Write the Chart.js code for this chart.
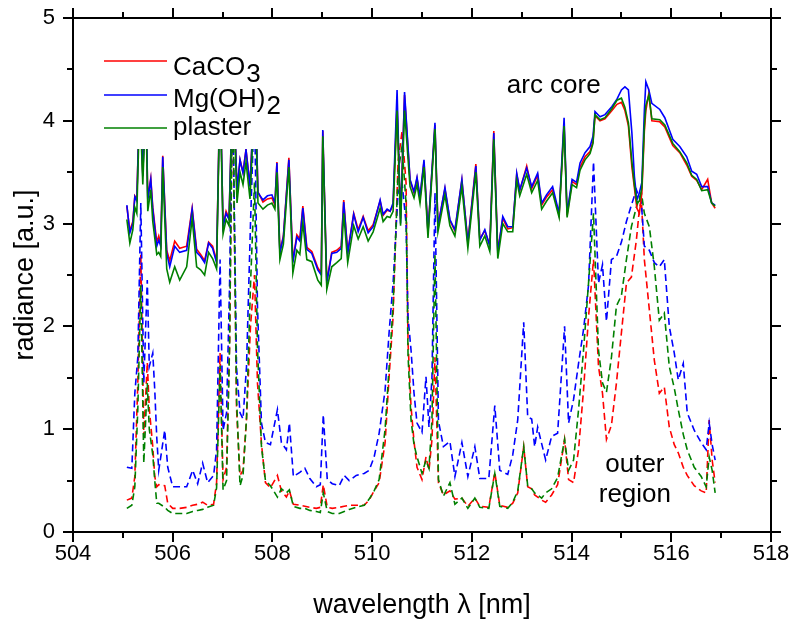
<!DOCTYPE html>
<html>
<head>
<meta charset="utf-8">
<title>radiance spectra</title>
<script src="https://cdn.jsdelivr.net/npm/chart.js@4.4.1/dist/chart.umd.min.js"></script>
<style>
  html, body { margin: 0; padding: 0; background: #fff; }
  #chart { display: block; }
</style>
</head>
<body>
<canvas id="chart" width="790" height="619"></canvas>
<script>
// arc core spectra (solid lines)
const coreWavelength = [
  505.08, 505.14, 505.20, 505.24, 505.28, 505.34, 505.40, 505.46, 505.50, 505.56,
  505.60, 505.68, 505.72, 505.76, 505.80, 505.88, 505.94, 506.04, 506.14, 506.28,
  506.39, 506.48, 506.56, 506.64, 506.72, 506.80, 506.88, 506.95, 507.01, 507.07,
  507.13, 507.21, 507.29, 507.35, 507.41, 507.47, 507.55, 507.65, 507.71, 507.81,
  507.90, 507.99, 508.05, 508.09, 508.15, 508.22, 508.33, 508.41, 508.49, 508.55,
  508.61, 508.69, 508.79, 508.91, 508.98, 509.01, 509.09, 509.19, 509.29, 509.38,
  509.43, 509.51, 509.63, 509.72, 509.82, 509.92, 510.02, 510.16, 510.22, 510.30,
  510.36, 510.42, 510.50, 510.57, 510.65, 510.76, 510.84, 510.90, 510.96, 511.04,
  511.12, 511.26, 511.32, 511.46, 511.56, 511.66, 511.80, 511.92, 512.08, 512.16,
  512.26, 512.36, 512.44, 512.52, 512.62, 512.72, 512.82, 512.90, 512.96, 513.10,
  513.20, 513.32, 513.40, 513.50, 513.62, 513.75, 513.85, 513.91, 514.01, 514.10,
  514.17, 514.27, 514.37, 514.43, 514.47, 514.57, 514.67, 514.81, 514.91, 515.00,
  515.07, 515.14, 515.21, 515.26, 515.31, 515.36, 515.41, 515.46, 515.49, 515.55,
  515.61, 515.77, 515.87, 516.03, 516.17, 516.31, 516.41, 516.51, 516.61, 516.73, 516.81, 516.88
];
const coreCaCO3 = [
  3.17, 2.93, 3.02, 3.27, 3.24, 4.30, 3.48, 4.30, 3.25, 3.44,
  3.16, 2.82, 2.88, 2.80, 3.66, 2.74, 2.64, 2.83, 2.76, 2.78,
  3.15, 2.75, 2.70, 2.64, 2.82, 2.78, 2.64, 4.40, 2.98, 3.12,
  3.05, 4.50, 3.33, 3.62, 3.50, 3.72, 3.37, 4.40, 3.31, 3.21,
  3.24, 3.25, 3.18, 3.60, 2.73, 2.88, 3.64, 2.64, 2.89, 2.85,
  3.17, 2.77, 2.73, 2.57, 2.52, 3.90, 2.44, 2.72, 2.74, 2.78,
  3.23, 2.72, 3.10, 2.94, 3.07, 2.93, 2.99, 3.22, 3.08, 3.13,
  3.12, 3.18, 4.15, 3.05, 4.25, 3.42, 3.30, 3.44, 3.25, 3.60,
  2.92, 3.96, 2.98, 3.34, 3.03, 2.93, 3.42, 2.82, 3.58, 2.85,
  2.93, 2.79, 3.90, 2.73, 3.05, 2.95, 2.96, 3.48, 3.32, 3.56,
  3.34, 3.47, 3.18, 3.26, 3.33, 3.08, 3.98, 3.08, 3.41, 3.38,
  3.55, 3.65, 3.70, 3.80, 4.05, 4.00, 4.02, 4.10, 4.16, 4.18,
  4.10, 3.95, 3.55, 3.35, 3.15, 3.10, 3.30, 3.90, 4.10, 4.27,
  4.00, 3.99, 3.94, 3.76, 3.69, 3.57, 3.46, 3.42, 3.33, 3.43, 3.20, 3.15
];
const coreMgOH2 = [
  3.18, 2.91, 3.00, 3.26, 3.22, 4.30, 3.46, 4.30, 3.23, 3.43,
  3.14, 2.78, 2.84, 2.78, 3.65, 2.71, 2.58, 2.78, 2.72, 2.74,
  3.14, 2.72, 2.68, 2.62, 2.81, 2.76, 2.62, 4.40, 2.97, 3.10,
  3.04, 4.50, 3.33, 3.62, 3.49, 3.72, 3.36, 4.40, 3.30, 3.23,
  3.27, 3.28, 3.20, 3.59, 2.71, 2.87, 3.62, 2.62, 2.87, 2.83,
  3.15, 2.75, 2.71, 2.55, 2.50, 3.91, 2.42, 2.71, 2.72, 2.76,
  3.21, 2.71, 3.09, 2.92, 3.06, 2.91, 2.97, 3.23, 3.09, 3.14,
  3.12, 3.20, 4.30, 3.00, 4.28, 3.43, 3.31, 3.45, 3.26, 3.62,
  2.91, 3.98, 2.97, 3.35, 3.04, 2.94, 3.43, 2.81, 3.56, 2.84,
  2.94, 2.78, 3.88, 2.71, 3.07, 2.97, 2.97, 3.49, 3.33, 3.54,
  3.36, 3.49, 3.20, 3.28, 3.36, 3.10, 4.03, 3.10, 3.43, 3.40,
  3.59, 3.69, 3.75, 3.85, 4.09, 4.04, 4.06, 4.14, 4.21, 4.30,
  4.33, 4.30, 3.88, 3.46, 3.23, 3.30, 3.40, 4.10, 4.38, 4.30,
  4.17, 4.11, 4.03, 3.82, 3.75, 3.65, 3.51, 3.48, 3.36, 3.36, 3.20, 3.18
];
const corePlaster = [
  3.04, 2.81, 2.94, 3.16, 3.10, 4.20, 3.38, 4.20, 3.12, 3.33,
  3.02, 2.70, 2.72, 2.68, 3.55, 2.56, 2.43, 2.58, 2.45, 2.58,
  3.05, 2.58, 2.55, 2.50, 2.72, 2.66, 2.56, 4.30, 2.90, 3.04,
  2.98, 4.40, 3.20, 3.50, 3.38, 3.60, 3.24, 4.30, 3.20, 3.14,
  3.18, 3.20, 3.14, 3.50, 2.65, 2.80, 3.55, 2.52, 2.74, 2.70,
  3.01, 2.65, 2.63, 2.45, 2.40, 3.85, 2.36, 2.58, 2.62, 2.66,
  3.10, 2.62, 2.98, 2.85, 2.97, 2.83, 2.92, 3.15, 3.02, 3.07,
  3.06, 3.12, 4.10, 2.98, 4.10, 3.36, 3.25, 3.38, 3.20, 3.55,
  2.86, 3.92, 2.92, 3.28, 2.98, 2.88, 3.36, 2.76, 3.50, 2.78,
  2.88, 2.73, 3.82, 2.66, 3.00, 2.92, 2.92, 3.42, 3.27, 3.48,
  3.30, 3.42, 3.14, 3.22, 3.30, 3.06, 3.95, 3.06, 3.38, 3.35,
  3.52, 3.62, 3.68, 3.78, 4.06, 4.01, 4.03, 4.12, 4.20, 4.22,
  4.13, 3.98, 3.60, 3.38, 3.20, 3.22, 3.35, 3.95, 4.15, 4.25,
  4.02, 4.01, 3.96, 3.78, 3.70, 3.59, 3.47, 3.43, 3.32, 3.33, 3.20, 3.17
];

// outer region spectra (dashed lines)
const outerWavelength = [
  505.08, 505.18, 505.24, 505.30, 505.36, 505.42, 505.49, 505.53, 505.60, 505.64,
  505.68, 505.72, 505.84, 505.90, 506.00, 506.14, 506.28, 506.40, 506.50, 506.60,
  506.70, 506.82, 506.88, 506.95, 507.01, 507.08, 507.14, 507.20, 507.28, 507.35,
  507.41, 507.48, 507.56, 507.64, 507.70, 507.78, 507.86, 507.96, 508.10, 508.18,
  508.28, 508.34, 508.42, 508.55, 508.65, 508.75, 508.88, 508.96, 509.02, 509.10,
  509.20, 509.34, 509.44, 509.54, 509.68, 509.84, 509.94, 510.04, 510.14, 510.26,
  510.34, 510.42, 510.52, 510.60, 510.68, 510.72, 510.78, 510.84, 510.90, 511.00,
  511.08, 511.14, 511.20, 511.26, 511.33, 511.43, 511.56, 511.66, 511.80, 511.92,
  512.06, 512.16, 512.34, 512.46, 512.56, 512.72, 512.82, 512.92, 513.04, 513.12,
  513.20, 513.26, 513.32, 513.40, 513.48, 513.60, 513.72, 513.86, 513.94, 514.04,
  514.14, 514.24, 514.34, 514.44, 514.54, 514.62, 514.70, 514.80, 514.90, 515.00,
  515.10, 515.20, 515.30, 515.36, 515.40, 515.46, 515.56, 515.66, 515.76, 515.86,
  515.96, 516.06, 516.14, 516.24, 516.32, 516.46, 516.60, 516.70, 516.76, 516.82, 516.88
];
const outerCaCO3 = [
  0.31, 0.33, 0.54, 1.45, 2.70, 0.93, 1.65, 1.20, 0.83, 0.54,
  0.44, 0.46, 0.45, 0.28, 0.23, 0.23, 0.24, 0.26, 0.27, 0.29,
  0.26, 0.27, 0.48, 1.74, 0.51, 0.63, 1.80, 4.40, 1.20, 0.55,
  0.60, 1.10, 2.00, 2.50, 1.45, 0.86, 0.48, 0.43, 0.55, 0.40,
  0.34, 0.40, 0.27, 0.26, 0.25, 0.24, 0.23, 0.24, 0.46, 0.24,
  0.23, 0.24, 0.25, 0.26, 0.26, 0.26, 0.31, 0.40, 0.48, 0.87,
  1.51, 2.09, 3.60, 3.90, 3.40, 1.84, 1.22, 0.88, 0.63, 0.51,
  0.73, 0.60, 0.90, 1.70, 0.48, 0.36, 0.40, 0.32, 0.33, 0.25,
  0.33, 0.25, 0.24, 0.58, 0.26, 0.24, 0.28, 0.38, 0.83, 0.44,
  0.42, 0.36, 0.34, 0.31, 0.29, 0.36, 0.46, 0.90, 0.51, 0.48,
  0.80, 1.38, 2.09, 2.65, 1.61, 1.35, 0.90, 1.04, 1.45, 1.94,
  2.42, 2.48, 2.84, 3.14, 3.23, 2.65, 2.16, 1.67, 1.35, 1.41,
  1.02, 0.85, 0.77, 0.63, 0.55, 0.45, 0.40, 0.38, 1.09, 0.70, 0.48
];
const outerMgOH2 = [
  0.63, 0.62, 1.35, 1.70, 3.20, 1.45, 2.45, 1.61, 1.74, 1.38,
  0.92, 0.60, 0.99, 0.63, 0.44, 0.44, 0.44, 0.60, 0.47, 0.67,
  0.48, 0.55, 0.80, 2.65, 0.99, 1.16, 2.40, 4.40, 1.60, 1.16,
  1.10, 1.61, 3.00, 4.20, 2.20, 1.06, 0.87, 0.85, 1.19, 0.87,
  0.80, 1.06, 0.54, 0.58, 0.62, 0.52, 0.44, 0.46, 1.14, 0.51,
  0.47, 0.45, 0.55, 0.50, 0.55, 0.57, 0.60, 0.73, 0.96, 1.38,
  1.94, 2.42, 3.30, 3.40, 3.00, 2.09, 1.77, 1.35, 1.06, 0.97,
  1.51, 1.02, 1.50, 3.30, 1.08, 0.83, 0.88, 0.54, 0.87, 0.54,
  0.83, 0.52, 0.52, 1.23, 0.60, 0.56, 0.75, 1.09, 2.04, 1.12,
  1.10, 0.83, 1.02, 0.86, 0.70, 0.93, 0.96, 2.00, 1.06, 1.29,
  1.64, 1.97, 2.40, 3.60, 2.42, 2.60, 2.05, 2.65, 2.68, 2.82,
  3.02, 3.18, 3.33, 3.25, 3.20, 2.78, 2.74, 2.62, 2.58, 2.65,
  2.00, 1.74, 1.48, 1.64, 1.16, 0.99, 0.87, 0.80, 1.06, 0.85, 0.70
];
const outerPlaster = [
  0.23, 0.26, 0.44, 1.20, 2.40, 0.67, 1.45, 1.00, 0.75, 0.50,
  0.28, 0.28, 0.24, 0.21, 0.18, 0.18, 0.18, 0.20, 0.21, 0.22,
  0.24, 0.26, 0.43, 1.62, 0.41, 0.50, 1.80, 4.40, 1.30, 0.45,
  0.55, 1.10, 2.40, 3.40, 1.80, 0.83, 0.50, 0.45, 0.34, 0.42,
  0.38, 0.41, 0.25, 0.23, 0.23, 0.21, 0.20, 0.19, 0.38, 0.20,
  0.18, 0.18, 0.20, 0.22, 0.24, 0.26, 0.32, 0.40, 0.51, 1.00,
  1.60, 2.20, 3.50, 3.75, 3.20, 1.72, 1.09, 0.85, 0.73, 0.57,
  0.70, 0.62, 1.10, 2.70, 0.51, 0.35, 0.48, 0.27, 0.33, 0.23,
  0.33, 0.24, 0.23, 0.57, 0.25, 0.23, 0.29, 0.40, 0.83, 0.45,
  0.42, 0.38, 0.36, 0.33, 0.38, 0.42, 0.53, 0.90, 0.60, 0.70,
  1.19, 1.77, 2.42, 3.10, 1.77, 1.45, 1.36, 1.70, 2.20, 2.30,
  2.65, 2.97, 3.16, 3.25, 3.30, 3.10, 2.97, 2.58, 2.06, 2.13,
  1.61, 1.40, 1.19, 0.95, 0.80, 0.63, 0.54, 0.44, 0.73, 0.60, 0.38
];

const sampleNames = ["CaCO", "Mg(OH)", "plaster"];
const sampleSubscripts = ["3", "2", ""];
const sampleColors = ["#ff0000", "#0000ff", "#008000"];

const xTickLabels = [504, 506, 508, 510, 512, 514, 516, 518];
const yTickLabels = [0, 1, 2, 3, 4, 5];

const FONT = '"Liberation Sans", Arial, Helvetica, sans-serif';

function toPoints(xs, ys) {
  return xs.map(function (x, i) { return { x: x, y: ys[i] }; });
}

const coreSeries = [coreCaCO3, coreMgOH2, corePlaster];
const outerSeries = [outerCaCO3, outerMgOH2, outerPlaster];

const datasets = [];
coreSeries.forEach(function (ys, i) {
  datasets.push({
    label: sampleNames[i] + sampleSubscripts[i] + " arc core",
    data: toPoints(coreWavelength, ys),
    borderColor: sampleColors[i],
    borderWidth: 1.6,
    order: 2 - i,
  });
});
outerSeries.forEach(function (ys, i) {
  datasets.push({
    label: sampleNames[i] + sampleSubscripts[i] + " outer region",
    data: toPoints(outerWavelength, ys),
    borderColor: sampleColors[i],
    borderWidth: 1.6,
    borderDash: [7, 4],
    order: 5 - i,
  });
});

// box, tick marks on all four sides (major + minor, pointing outward)
const frameTicks = {
  id: "frameTicks",
  afterDraw(chart) {
    const { ctx, chartArea: a, scales } = chart;
    const x = scales.x, y = scales.y;
    ctx.save();
    ctx.strokeStyle = "#000";
    ctx.lineWidth = 2;
    ctx.strokeRect(a.left, a.top, a.right - a.left, a.bottom - a.top);
    ctx.beginPath();
    for (let v = 504; v <= 518; v += 1) {
      const px = Math.round(x.getPixelForValue(v));
      const len = v % 2 === 0 ? 10 : 6;
      ctx.moveTo(px, a.bottom); ctx.lineTo(px, a.bottom + len);
      ctx.moveTo(px, a.top); ctx.lineTo(px, a.top - len);
    }
    for (let v = 0; v <= 5; v += 0.5) {
      const py = Math.round(y.getPixelForValue(v));
      const len = v % 1 === 0 ? 10 : 6;
      ctx.moveTo(a.left, py); ctx.lineTo(a.left - len, py);
      ctx.moveTo(a.right, py); ctx.lineTo(a.right + len, py);
    }
    ctx.stroke();
    ctx.restore();
  }
};

// legend with real subscripts, on a white box; plus the two region notes
const legendAndNotes = {
  id: "legendAndNotes",
  afterDatasetsDraw(chart) {
    const { ctx, scales } = chart;
    const x = scales.x, y = scales.y;
    ctx.save();
    ctx.fillStyle = "#fff";
    ctx.fillRect(92, 38, 176, 111);

    const lineY = [61, 95, 128];
    const baseY = [75, 107, 135];
    ctx.font = "26px " + FONT;
    ctx.textBaseline = "alphabetic";
    ctx.textAlign = "left";
    sampleNames.forEach(function (name, i) {
      ctx.strokeStyle = sampleColors[i];
      ctx.lineWidth = 1.6;
      ctx.beginPath();
      ctx.moveTo(104, lineY[i]);
      ctx.lineTo(167, lineY[i]);
      ctx.stroke();
      ctx.fillStyle = "#000";
      ctx.fillText(name, 173, baseY[i]);
      if (sampleSubscripts[i]) {
        const w = ctx.measureText(name).width;
        ctx.fillText(sampleSubscripts[i], 173 + w + 1, baseY[i] + 7);
      }
    });

    ctx.fillStyle = "#000";
    ctx.fillText("arc core", x.getPixelForValue(512.70), y.getPixelForValue(4.27));
    ctx.textAlign = "center";
    ctx.fillText("outer", x.getPixelForValue(515.27), y.getPixelForValue(0.58));
    ctx.fillText("region", x.getPixelForValue(515.27), y.getPixelForValue(0.29));
    ctx.restore();
  }
};

const ctx = document.getElementById("chart").getContext("2d");

new Chart(ctx, {
  type: "line",
  data: { datasets: datasets },
  options: {
    responsive: false,
    animation: false,
    devicePixelRatio: 1,
    layout: { padding: { top: 18, right: 19, left: 0, bottom: 0 } },
    elements: { point: { radius: 0 }, line: { tension: 0 } },
    plugins: {
      legend: { display: false },
      tooltip: { enabled: false },
    },
    scales: {
      x: {
        type: "linear",
        min: 504,
        max: 518,
        grid: { display: false, drawTicks: false },
        border: { display: false },
        afterBuildTicks(scale) {
          scale.ticks = xTickLabels.map(function (v) { return { value: v }; });
        },
        ticks: {
          color: "#000",
          padding: 9,
          maxRotation: 0,
          autoSkip: false,
          font: { family: FONT, size: 22 },
        },
        title: {
          display: true,
          text: "wavelength λ [nm]",
          color: "#000",
          font: { family: FONT, size: 27, lineHeight: 1 },
          padding: { top: 0, bottom: 0 },
        },
        afterFit(scale) {
          scale.height = 87;
          scale.paddingLeft = 0;
          scale.paddingRight = 0;
        },
      },
      y: {
        min: 0,
        max: 5,
        grid: { display: false, drawTicks: false },
        border: { display: false },
        afterBuildTicks(scale) {
          scale.ticks = yTickLabels.map(function (v) { return { value: v }; });
        },
        ticks: {
          color: "#000",
          padding: 18,
          font: { family: FONT, size: 22 },
        },
        title: {
          display: true,
          text: "radiance [a.u.]",
          color: "#000",
          font: { family: FONT, size: 27, lineHeight: 1 },
          padding: { top: 12, bottom: 0 },
        },
        afterFit(scale) {
          scale.width = 73;
          scale.paddingTop = 0;
          scale.paddingBottom = 0;
        },
      },
    },
  },
  plugins: [legendAndNotes, frameTicks],
});
</script>
</body>
</html>
